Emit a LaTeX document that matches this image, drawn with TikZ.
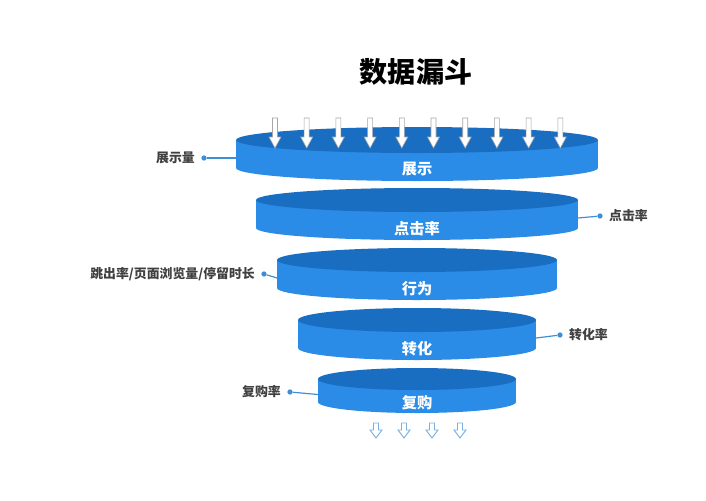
\documentclass[tikz,border=0pt]{standalone}
\usepackage{fontspec}
\setmainfont{Noto Sans CJK SC}
\usetikzlibrary{arrows.meta}
\definecolor{topblue}{HTML}{1A6EC2}
\definecolor{sideblue}{HTML}{2A8CE6}
\definecolor{linkblue}{HTML}{3E8FD6}
\tikzset{
  inlabel/.style={text=white,font=\bfseries\fontsize{13}{14}\selectfont},
  sidelabel/.style={text=black!75,font=\bfseries\fontsize{11}{13}\selectfont},
  link/.style={linkblue,line width=1pt},
  dot/.style={circle,fill=linkblue,inner sep=1.6pt},
  inarrow/.style={draw=black!35,fill=white,line width=0.5pt},
}
% disc: name, left, right, top y, bottom y, ry, label
\newcommand\discpart[7]{
  \fill[sideblue] (#2,#4) rectangle (#3,#5);
  \fill[sideblue] ({(#2+#3)/2},#5) ellipse [x radius={(#3-#2)/2},y radius=#6];
  \fill[topblue] ({(#2+#3)/2},#4) ellipse [x radius={(#3-#2)/2},y radius=#6];
  \node[inlabel] (#1) at ({(#2+#3)/2},{#5+1}) {#7};
  \coordinate (#1-w) at (#2,{(#4+#5)/2+4});
  \coordinate (#1-e) at (#3,{(#4+#5)/2+4});
}
\begin{document}
\begin{tikzpicture}[x=0.03cm,y=-0.03cm]
  \useasboundingbox[fill=white] (0,0) rectangle (706,500);
  \node[font=\bfseries\fontsize{24}{26}\selectfont] (title) at (416,72) {数据漏斗};
  \discpart{show}{236}{598}{140}{168}{13}{展示}
  \discpart{click}{256}{578}{200}{228}{12}{点击率}
  \discpart{act}{277}{557}{260}{288}{12}{行为}
  \discpart{conv}{298}{536}{320}{348}{12}{转化}
  \discpart{rebuy}{318}{516}{379}{402}{11}{复购}
  % arrows into the top
  \foreach \i in {0,...,9} {
    \pgfmathsetmacro\ax{275+31.7*\i}
    \fill[inarrow] (\ax-2.5,118) -- (\ax+2.5,118) -- (\ax+2.5,137) -- (\ax+6,137)
      -- (\ax,148) -- (\ax-6,137) -- (\ax-2.5,137) -- cycle;
  }
  % arrows out of the bottom
  \foreach \ax in {376,404,432,460} {
    \draw[inarrow,line width=0.8pt,draw=linkblue!70] (\ax-2.5,423) -- (\ax+2.5,423) -- (\ax+2.5,430) -- (\ax+6,430)
      -- (\ax,438) -- (\ax-6,430) -- (\ax-2.5,430) -- cycle;
  }
  % side labels
  \node[dot] (d1) at (204,158) {};
  \node[sidelabel,anchor=east] (l1) at (199,158) {展示量};
  \draw[link] (d1) -- (show-w);
  \node[dot] (d2) at (600,216) {};
  \node[sidelabel,anchor=west] (l2) at (605,216) {点击率};
  \draw[link] (click-e) -- (d2);
  \node[dot] (d3) at (264,274) {};
  \node[sidelabel,anchor=east] (l3) at (259,274) {跳出率/页面浏览量/停留时长};
  \draw[link] (d3) -- (act-w);
  \node[dot] (d4) at (560,335) {};
  \node[sidelabel,anchor=west] (l4) at (565,335) {转化率};
  \draw[link] (conv-e) -- (d4);
  \node[dot] (d5) at (290,392) {};
  \node[sidelabel,anchor=east] (l5) at (285,392) {复购率};
  \draw[link] (d5) -- (rebuy-w);
\end{tikzpicture}
\end{document}
